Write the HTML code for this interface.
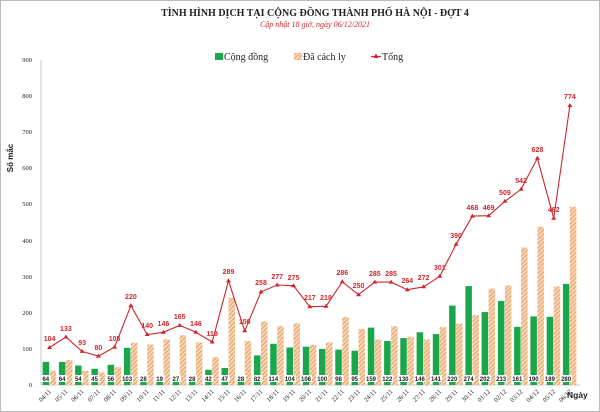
<!DOCTYPE html>
<html><head><meta charset="utf-8"><style>
body{margin:0;background:#fff}
svg{display:block}
.t{font-family:"Liberation Serif",serif}
.v{font-family:"Liberation Sans",sans-serif;font-size:6px;font-weight:bold;text-anchor:middle;fill:#222}
.r{font-family:"Liberation Sans",sans-serif;font-size:7px;font-weight:bold;text-anchor:middle;fill:#d0262b}
.d{font-family:"Liberation Serif",serif;font-size:6.5px;fill:#222;text-anchor:end}
.y{font-family:"Liberation Serif",serif;font-size:6.5px;fill:#222;text-anchor:end}
</style></head><body>
<svg width="600" height="412" viewBox="0 0 600 412" xmlns="http://www.w3.org/2000/svg">
<defs>
<pattern id="h" width="3" height="3" patternUnits="userSpaceOnUse" patternTransform="rotate(45)">
<rect width="3" height="3" fill="#f8dcc0"/><rect width="1.3" height="3" fill="#e9a56a"/>
</pattern>
</defs>
<rect x="0.5" y="0.5" width="599" height="411" fill="#fff" stroke="#bbb"/>
<text class="t" x="315" y="16" font-size="10" font-weight="bold" text-anchor="middle" fill="#222">TÌNH HÌNH DỊCH TẠI CỘNG ĐỒNG THÀNH PHỐ HÀ NỘI - ĐỢT 4</text>
<text class="t" x="315" y="27" font-size="8" font-style="italic" text-anchor="middle" fill="#d0262b">Cập nhật 18 giờ, ngày 06/12/2021</text>
<rect x="215" y="53" width="8" height="7" fill="#1aa64a"/>
<text class="t" x="224" y="60" font-size="10" fill="#222">Cộng đồng</text>
<rect x="294" y="53" width="8" height="7" fill="url(#h)"/>
<text class="t" x="303" y="60" font-size="10" fill="#222">Đã cách ly</text>
<line x1="371" y1="56.5" x2="381" y2="56.5" stroke="#d0262b" stroke-width="1.2"/>
<polygon points="376,53.5 378.5,58 373.5,58" fill="#d0262b"/>
<text class="t" x="382" y="60" font-size="10" fill="#222">Tổng</text>
<text x="13" y="158" font-family="Liberation Sans,sans-serif" font-size="8" font-weight="bold" fill="#222" transform="rotate(-90 13 158)" text-anchor="middle">Số mắc</text>
<line x1="41" y1="60" x2="41" y2="385" stroke="#bbb" stroke-width="0.8"/>
<line x1="41" y1="385" x2="580" y2="385" stroke="#bbb" stroke-width="0.8"/>
<g class="y">
<text x="32" y="387">0</text><text x="32" y="351">100</text><text x="32" y="315">200</text><text x="32" y="279">300</text><text x="32" y="243">400</text><text x="32" y="206">500</text><text x="32" y="170">600</text><text x="32" y="134">700</text><text x="32" y="98">800</text><text x="32" y="62">900</text>
</g>
<g fill="#1aa64a">
<rect x="42.6" y="361.9" width="6.5" height="23.1"/><rect x="58.9" y="361.9" width="6.5" height="23.1"/><rect x="75.1" y="365.5" width="6.5" height="19.5"/><rect x="91.4" y="368.8" width="6.5" height="16.2"/><rect x="107.6" y="364.8" width="6.5" height="20.2"/><rect x="123.9" y="347.8" width="6.5" height="37.2"/><rect x="140.2" y="374.9" width="6.5" height="10.1"/><rect x="156.4" y="378.1" width="6.5" height="6.9"/><rect x="172.7" y="375.3" width="6.5" height="9.7"/><rect x="188.9" y="374.9" width="6.5" height="10.1"/><rect x="205.2" y="369.8" width="6.5" height="15.2"/><rect x="221.5" y="368" width="6.5" height="17"/><rect x="237.7" y="374.9" width="6.5" height="10.1"/><rect x="254" y="355.4" width="6.5" height="29.6"/><rect x="270.2" y="343.8" width="6.5" height="41.2"/><rect x="286.5" y="347.5" width="6.5" height="37.5"/><rect x="302.8" y="346.7" width="6.5" height="38.3"/><rect x="319" y="348.9" width="6.5" height="36.1"/><rect x="335.3" y="349.6" width="6.5" height="35.4"/><rect x="351.5" y="350.7" width="6.5" height="34.3"/><rect x="367.8" y="327.6" width="6.5" height="57.4"/><rect x="384.1" y="341" width="6.5" height="44"/><rect x="400.3" y="338.1" width="6.5" height="46.9"/><rect x="416.6" y="332.3" width="6.5" height="52.7"/><rect x="432.8" y="334.1" width="6.5" height="50.9"/><rect x="449.1" y="305.6" width="6.5" height="79.4"/><rect x="465.4" y="286.1" width="6.5" height="98.9"/><rect x="481.6" y="312.1" width="6.5" height="72.9"/><rect x="497.9" y="300.9" width="6.5" height="84.1"/><rect x="514.1" y="326.9" width="6.5" height="58.1"/><rect x="530.4" y="316.4" width="6.5" height="68.6"/><rect x="546.7" y="316.8" width="6.5" height="68.2"/><rect x="562.9" y="283.9" width="6.5" height="101.1"/>
</g>
<g fill="url(#h)">
<rect x="49.6" y="370.6" width="6.5" height="14.4"/><rect x="65.9" y="360.1" width="6.5" height="24.9"/><rect x="82.1" y="370.9" width="6.5" height="14.1"/><rect x="98.4" y="372.4" width="6.5" height="12.6"/><rect x="114.6" y="367.3" width="6.5" height="17.7"/><rect x="130.9" y="342.8" width="6.5" height="42.2"/><rect x="147.2" y="344.6" width="6.5" height="40.4"/><rect x="163.4" y="339.2" width="6.5" height="45.8"/><rect x="179.7" y="335.2" width="6.5" height="49.8"/><rect x="195.9" y="342.4" width="6.5" height="42.6"/><rect x="212.2" y="357.2" width="6.5" height="27.8"/><rect x="228.5" y="297.6" width="6.5" height="87.4"/><rect x="244.7" y="341" width="6.5" height="44"/><rect x="261" y="321.5" width="6.5" height="63.5"/><rect x="277.2" y="326.2" width="6.5" height="58.8"/><rect x="293.5" y="323.3" width="6.5" height="61.7"/><rect x="309.8" y="344.9" width="6.5" height="40.1"/><rect x="326" y="342.4" width="6.5" height="42.6"/><rect x="342.3" y="317.1" width="6.5" height="67.9"/><rect x="358.5" y="329" width="6.5" height="56"/><rect x="374.8" y="339.5" width="6.5" height="45.5"/><rect x="391.1" y="326.2" width="6.5" height="58.8"/><rect x="407.3" y="336.6" width="6.5" height="48.4"/><rect x="423.6" y="339.5" width="6.5" height="45.5"/><rect x="439.8" y="327.2" width="6.5" height="57.8"/><rect x="456.1" y="323.6" width="6.5" height="61.4"/><rect x="472.4" y="315" width="6.5" height="70"/><rect x="488.6" y="288.6" width="6.5" height="96.4"/><rect x="504.9" y="285.4" width="6.5" height="99.6"/><rect x="521.1" y="247.5" width="6.5" height="137.5"/><rect x="537.4" y="226.9" width="6.5" height="158.1"/><rect x="553.7" y="286.4" width="6.5" height="98.6"/><rect x="569.9" y="206.7" width="6.5" height="178.3"/>
</g>
<polyline fill="none" stroke="#d0262b" stroke-width="1.1" points="49.6,347.5 65.9,337 82.1,351.4 98.4,356.1 114.6,347.1 130.9,305.6 147.2,334.5 163.4,332.3 179.7,325.4 195.9,332.3 212.2,342 228.5,280.7 244.7,330.8 261,291.9 277.2,285 293.5,285.7 309.8,306.7 326,306.3 342.3,281.8 358.5,294.7 374.8,282.1 391.1,282.1 407.3,289.7 423.6,286.8 439.8,276.3 456.1,244.2 472.4,216.1 488.6,215.7 504.9,201.3 521.1,189.3 537.4,158.3 553.7,218.2 569.9,105.6"/>
<g fill="#d0262b">
<path d="M49.6,345 l2.5,4 h-5z M65.9,334.5 l2.5,4 h-5z M82.1,348.9 l2.5,4 h-5z M98.4,353.6 l2.5,4 h-5z M114.6,344.6 l2.5,4 h-5z M130.9,303.1 l2.5,4 h-5z M147.2,332 l2.5,4 h-5z M163.4,329.8 l2.5,4 h-5z M179.7,322.9 l2.5,4 h-5z M195.9,329.8 l2.5,4 h-5z M212.2,339.5 l2.5,4 h-5z M228.5,278.2 l2.5,4 h-5z M244.7,328.3 l2.5,4 h-5z M261,289.4 l2.5,4 h-5z M277.2,282.5 l2.5,4 h-5z M293.5,283.2 l2.5,4 h-5z M309.8,304.2 l2.5,4 h-5z M326,303.8 l2.5,4 h-5z M342.3,279.3 l2.5,4 h-5z M358.5,292.2 l2.5,4 h-5z M374.8,279.6 l2.5,4 h-5z M391.1,279.6 l2.5,4 h-5z M407.3,287.2 l2.5,4 h-5z M423.6,284.3 l2.5,4 h-5z M439.8,273.8 l2.5,4 h-5z M456.1,241.7 l2.5,4 h-5z M472.4,213.6 l2.5,4 h-5z M488.6,213.2 l2.5,4 h-5z M504.9,198.8 l2.5,4 h-5z M521.1,186.8 l2.5,4 h-5z M537.4,155.8 l2.5,4 h-5z M553.7,215.7 l2.5,4 h-5z M569.9,103.1 l2.5,4 h-5z"/>
</g>
<g class="r">
<text x="49.6" y="341">104</text><text x="65.9" y="331">133</text><text x="82.1" y="345">93</text><text x="98.4" y="350">80</text><text x="114.6" y="341">105</text><text x="130.9" y="299">220</text><text x="147.2" y="328">140</text><text x="163.4" y="326">146</text><text x="179.7" y="319">165</text><text x="195.9" y="326">146</text><text x="212.2" y="336">119</text><text x="228.5" y="274">289</text><text x="244.7" y="324">150</text><text x="261" y="285">258</text><text x="277.2" y="279">277</text><text x="293.5" y="280">275</text><text x="309.8" y="300">217</text><text x="326" y="300">218</text><text x="342.3" y="275">286</text><text x="358.5" y="288">250</text><text x="374.8" y="276">285</text><text x="391.1" y="276">285</text><text x="407.3" y="283">264</text><text x="423.6" y="280">272</text><text x="439.8" y="270">301</text><text x="456.1" y="238">390</text><text x="472.4" y="210">468</text><text x="488.6" y="210">469</text><text x="504.9" y="195">509</text><text x="521.1" y="183">542</text><text x="537.4" y="152">628</text><text x="553.7" y="212">462</text><text x="569.9" y="99">774</text>
</g>
<g fill="#fff">
<rect x="40.8" y="375" width="10" height="7"/><rect x="57.1" y="375" width="10" height="7"/><rect x="73.3" y="375" width="10" height="7"/><rect x="89.6" y="375" width="10" height="7"/><rect x="105.8" y="375" width="10" height="7"/><rect x="121.1" y="375" width="12" height="7"/><rect x="138.4" y="375" width="10" height="7"/><rect x="154.6" y="375" width="10" height="7"/><rect x="170.9" y="375" width="10" height="7"/><rect x="187.1" y="375" width="10" height="7"/><rect x="203.4" y="375" width="10" height="7"/><rect x="219.7" y="375" width="10" height="7"/><rect x="235.9" y="375" width="10" height="7"/><rect x="252.2" y="375" width="10" height="7"/><rect x="267.4" y="375" width="12" height="7"/><rect x="283.7" y="375" width="12" height="7"/><rect x="300" y="375" width="12" height="7"/><rect x="316.2" y="375" width="12" height="7"/><rect x="333.5" y="375" width="10" height="7"/><rect x="349.7" y="375" width="10" height="7"/><rect x="365" y="375" width="12" height="7"/><rect x="381.3" y="375" width="12" height="7"/><rect x="397.5" y="375" width="12" height="7"/><rect x="413.8" y="375" width="12" height="7"/><rect x="430" y="375" width="12" height="7"/><rect x="446.3" y="375" width="12" height="7"/><rect x="462.6" y="375" width="12" height="7"/><rect x="478.8" y="375" width="12" height="7"/><rect x="495.1" y="375" width="12" height="7"/><rect x="511.3" y="375" width="12" height="7"/><rect x="527.6" y="375" width="12" height="7"/><rect x="543.9" y="375" width="12" height="7"/><rect x="560.1" y="375" width="12" height="7"/>
</g>
<g class="v">
<text x="45.8" y="381">64</text><text x="62.1" y="381">64</text><text x="78.3" y="381">54</text><text x="94.6" y="381">45</text><text x="110.8" y="381">56</text><text x="127.1" y="381">103</text><text x="143.4" y="381">28</text><text x="159.6" y="381">19</text><text x="175.9" y="381">27</text><text x="192.1" y="381">28</text><text x="208.4" y="381">42</text><text x="224.7" y="381">47</text><text x="240.9" y="381">28</text><text x="257.2" y="381">82</text><text x="273.4" y="381">114</text><text x="289.7" y="381">104</text><text x="306" y="381">106</text><text x="322.2" y="381">100</text><text x="338.5" y="381">98</text><text x="354.7" y="381">95</text><text x="371" y="381">159</text><text x="387.3" y="381">122</text><text x="403.5" y="381">130</text><text x="419.8" y="381">146</text><text x="436" y="381">141</text><text x="452.3" y="381">220</text><text x="468.6" y="381">274</text><text x="484.8" y="381">202</text><text x="501.1" y="381">233</text><text x="517.3" y="381">161</text><text x="533.6" y="381">190</text><text x="549.9" y="381">189</text><text x="566.1" y="381">280</text>
</g>
<g class="d">
<text transform="translate(51.6,392) rotate(-45)">04/11</text><text transform="translate(67.9,392) rotate(-45)">05/11</text><text transform="translate(84.1,392) rotate(-45)">06/11</text><text transform="translate(100.4,392) rotate(-45)">07/11</text><text transform="translate(116.6,392) rotate(-45)">08/11</text><text transform="translate(132.9,392) rotate(-45)">09/11</text><text transform="translate(149.2,392) rotate(-45)">10/11</text><text transform="translate(165.4,392) rotate(-45)">11/11</text><text transform="translate(181.7,392) rotate(-45)">12/11</text><text transform="translate(197.9,392) rotate(-45)">13/11</text><text transform="translate(214.2,392) rotate(-45)">14/11</text><text transform="translate(230.5,392) rotate(-45)">15/11</text><text transform="translate(246.7,392) rotate(-45)">16/11</text><text transform="translate(263,392) rotate(-45)">17/11</text><text transform="translate(279.2,392) rotate(-45)">18/11</text><text transform="translate(295.5,392) rotate(-45)">19/11</text><text transform="translate(311.8,392) rotate(-45)">20/11</text><text transform="translate(328,392) rotate(-45)">21/11</text><text transform="translate(344.3,392) rotate(-45)">22/11</text><text transform="translate(360.5,392) rotate(-45)">23/11</text><text transform="translate(376.8,392) rotate(-45)">24/11</text><text transform="translate(393.1,392) rotate(-45)">25/11</text><text transform="translate(409.3,392) rotate(-45)">26/11</text><text transform="translate(425.6,392) rotate(-45)">27/11</text><text transform="translate(441.8,392) rotate(-45)">28/11</text><text transform="translate(458.1,392) rotate(-45)">29/11</text><text transform="translate(474.4,392) rotate(-45)">30/11</text><text transform="translate(490.6,392) rotate(-45)">01/12</text><text transform="translate(506.9,392) rotate(-45)">02/12</text><text transform="translate(523.1,392) rotate(-45)">03/12</text><text transform="translate(539.4,392) rotate(-45)">04/12</text><text transform="translate(555.7,392) rotate(-45)">05/12</text><text transform="translate(571.9,392) rotate(-45)">06/12</text>
</g>
<text x="567" y="398" font-family="Liberation Sans,sans-serif" font-size="8.5" font-weight="bold" fill="#222">Ngày</text>
</svg>
</body></html>
